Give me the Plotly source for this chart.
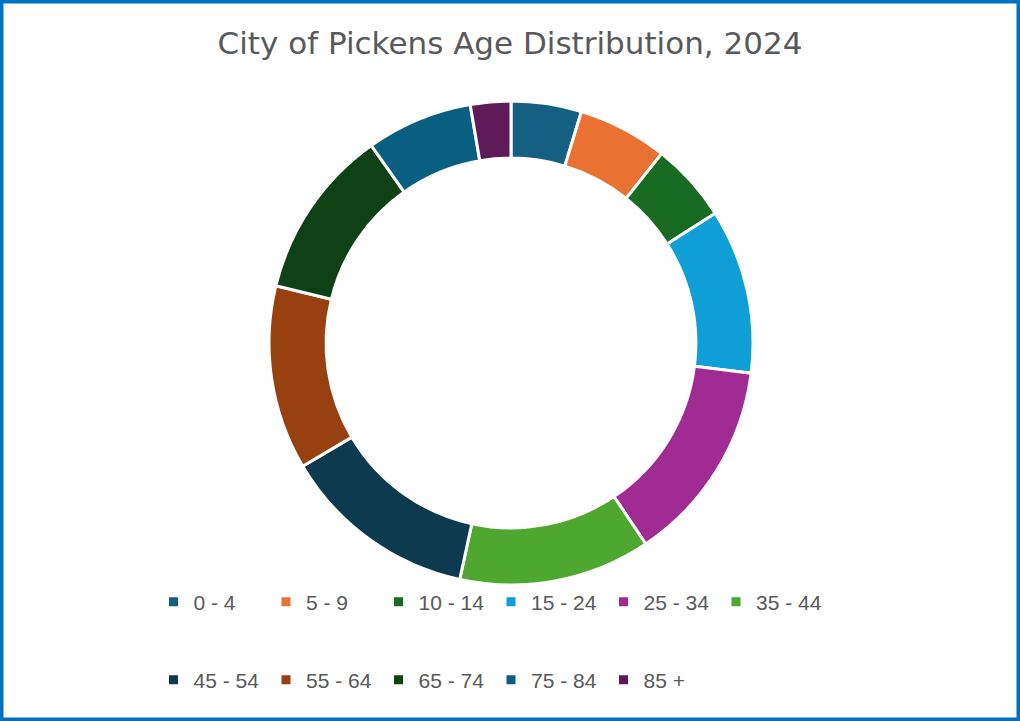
import plotly.graph_objects as go

age_groups = ["0 - 4", "5 - 9", "10 - 14", "15 - 24", "25 - 34", "35 - 44",
              "45 - 54", "55 - 64", "65 - 74", "75 - 84", "85 +"]
share_pct = [4.7, 6.0, 5.3, 11.0, 13.6, 12.8, 13.1, 12.3, 11.4, 7.1, 2.7]
slice_colors = ["#156082", "#E97132", "#196B24", "#0F9ED5", "#A02B93", "#4EA72E",
                "#0D3A4E", "#994011", "#0F4016", "#095F80", "#601A58"]
legend_row = [1, 1, 1, 1, 1, 1, 2, 2, 2, 2, 2]

W, H = 1020, 721
cx, cy, R = 511, 343, 242

fig = go.Figure()
fig.add_trace(go.Pie(
    labels=age_groups, values=share_pct, hole=0.764, sort=False,
    direction="clockwise", rotation=0,
    marker=dict(colors=slice_colors, line=dict(color="white", width=3)),
    textinfo="none", hoverinfo="label+percent", showlegend=False,
    domain=dict(x=[(cx - R) / W, (cx + R) / W],
                y=[(H - cy - R) / H, (H - cy + R) / H]),
))
for lab, col, row in zip(age_groups, slice_colors, legend_row):
    fig.add_trace(go.Scatter(
        x=[None], y=[None], mode="markers", name=lab,
        marker=dict(symbol="square", size=9, color=col),
        legend="legend" if row == 1 else "legend2", showlegend=True,
        hoverinfo="skip",
    ))

leg_common = dict(orientation="h", xanchor="left", yanchor="middle",
                  entrywidth=67.5, entrywidthmode="pixels",
                  font=dict(family="Liberation Sans, Arial, sans-serif", size=21, color="#595959"),
                  bgcolor="rgba(0,0,0,0)", itemclick=False, itemdoubleclick=False)

fig.update_layout(
    width=W, height=H,
    margin=dict(l=0, r=0, t=0, b=0),
    paper_bgcolor="white", plot_bgcolor="white",
    title=dict(text="City of Pickens Age Distribution, 2024",
               x=0.5, xanchor="center", y=1 - 43 / H, yanchor="middle", yref="container",
               font=dict(family="DejaVu Sans, sans-serif", size=31, color="#595959")),
    xaxis=dict(visible=False), yaxis=dict(visible=False),
    legend=dict(x=(178.5 - 25) / W, y=1 - 602 / H, **leg_common),
    legend2=dict(x=(178.5 - 25) / W, y=1 - 680 / H, **leg_common),
    shapes=[dict(type="rect", xref="paper", yref="paper", x0=0, x1=1, y0=0, y1=1,
                 line=dict(color="#0070C0", width=7), fillcolor="rgba(0,0,0,0)")],
    showlegend=True,
)

fig.write_html("out.html", config={"displayModeBar": False},
               post_script="document.body.style.margin='0';document.body.style.overflow='hidden';")
